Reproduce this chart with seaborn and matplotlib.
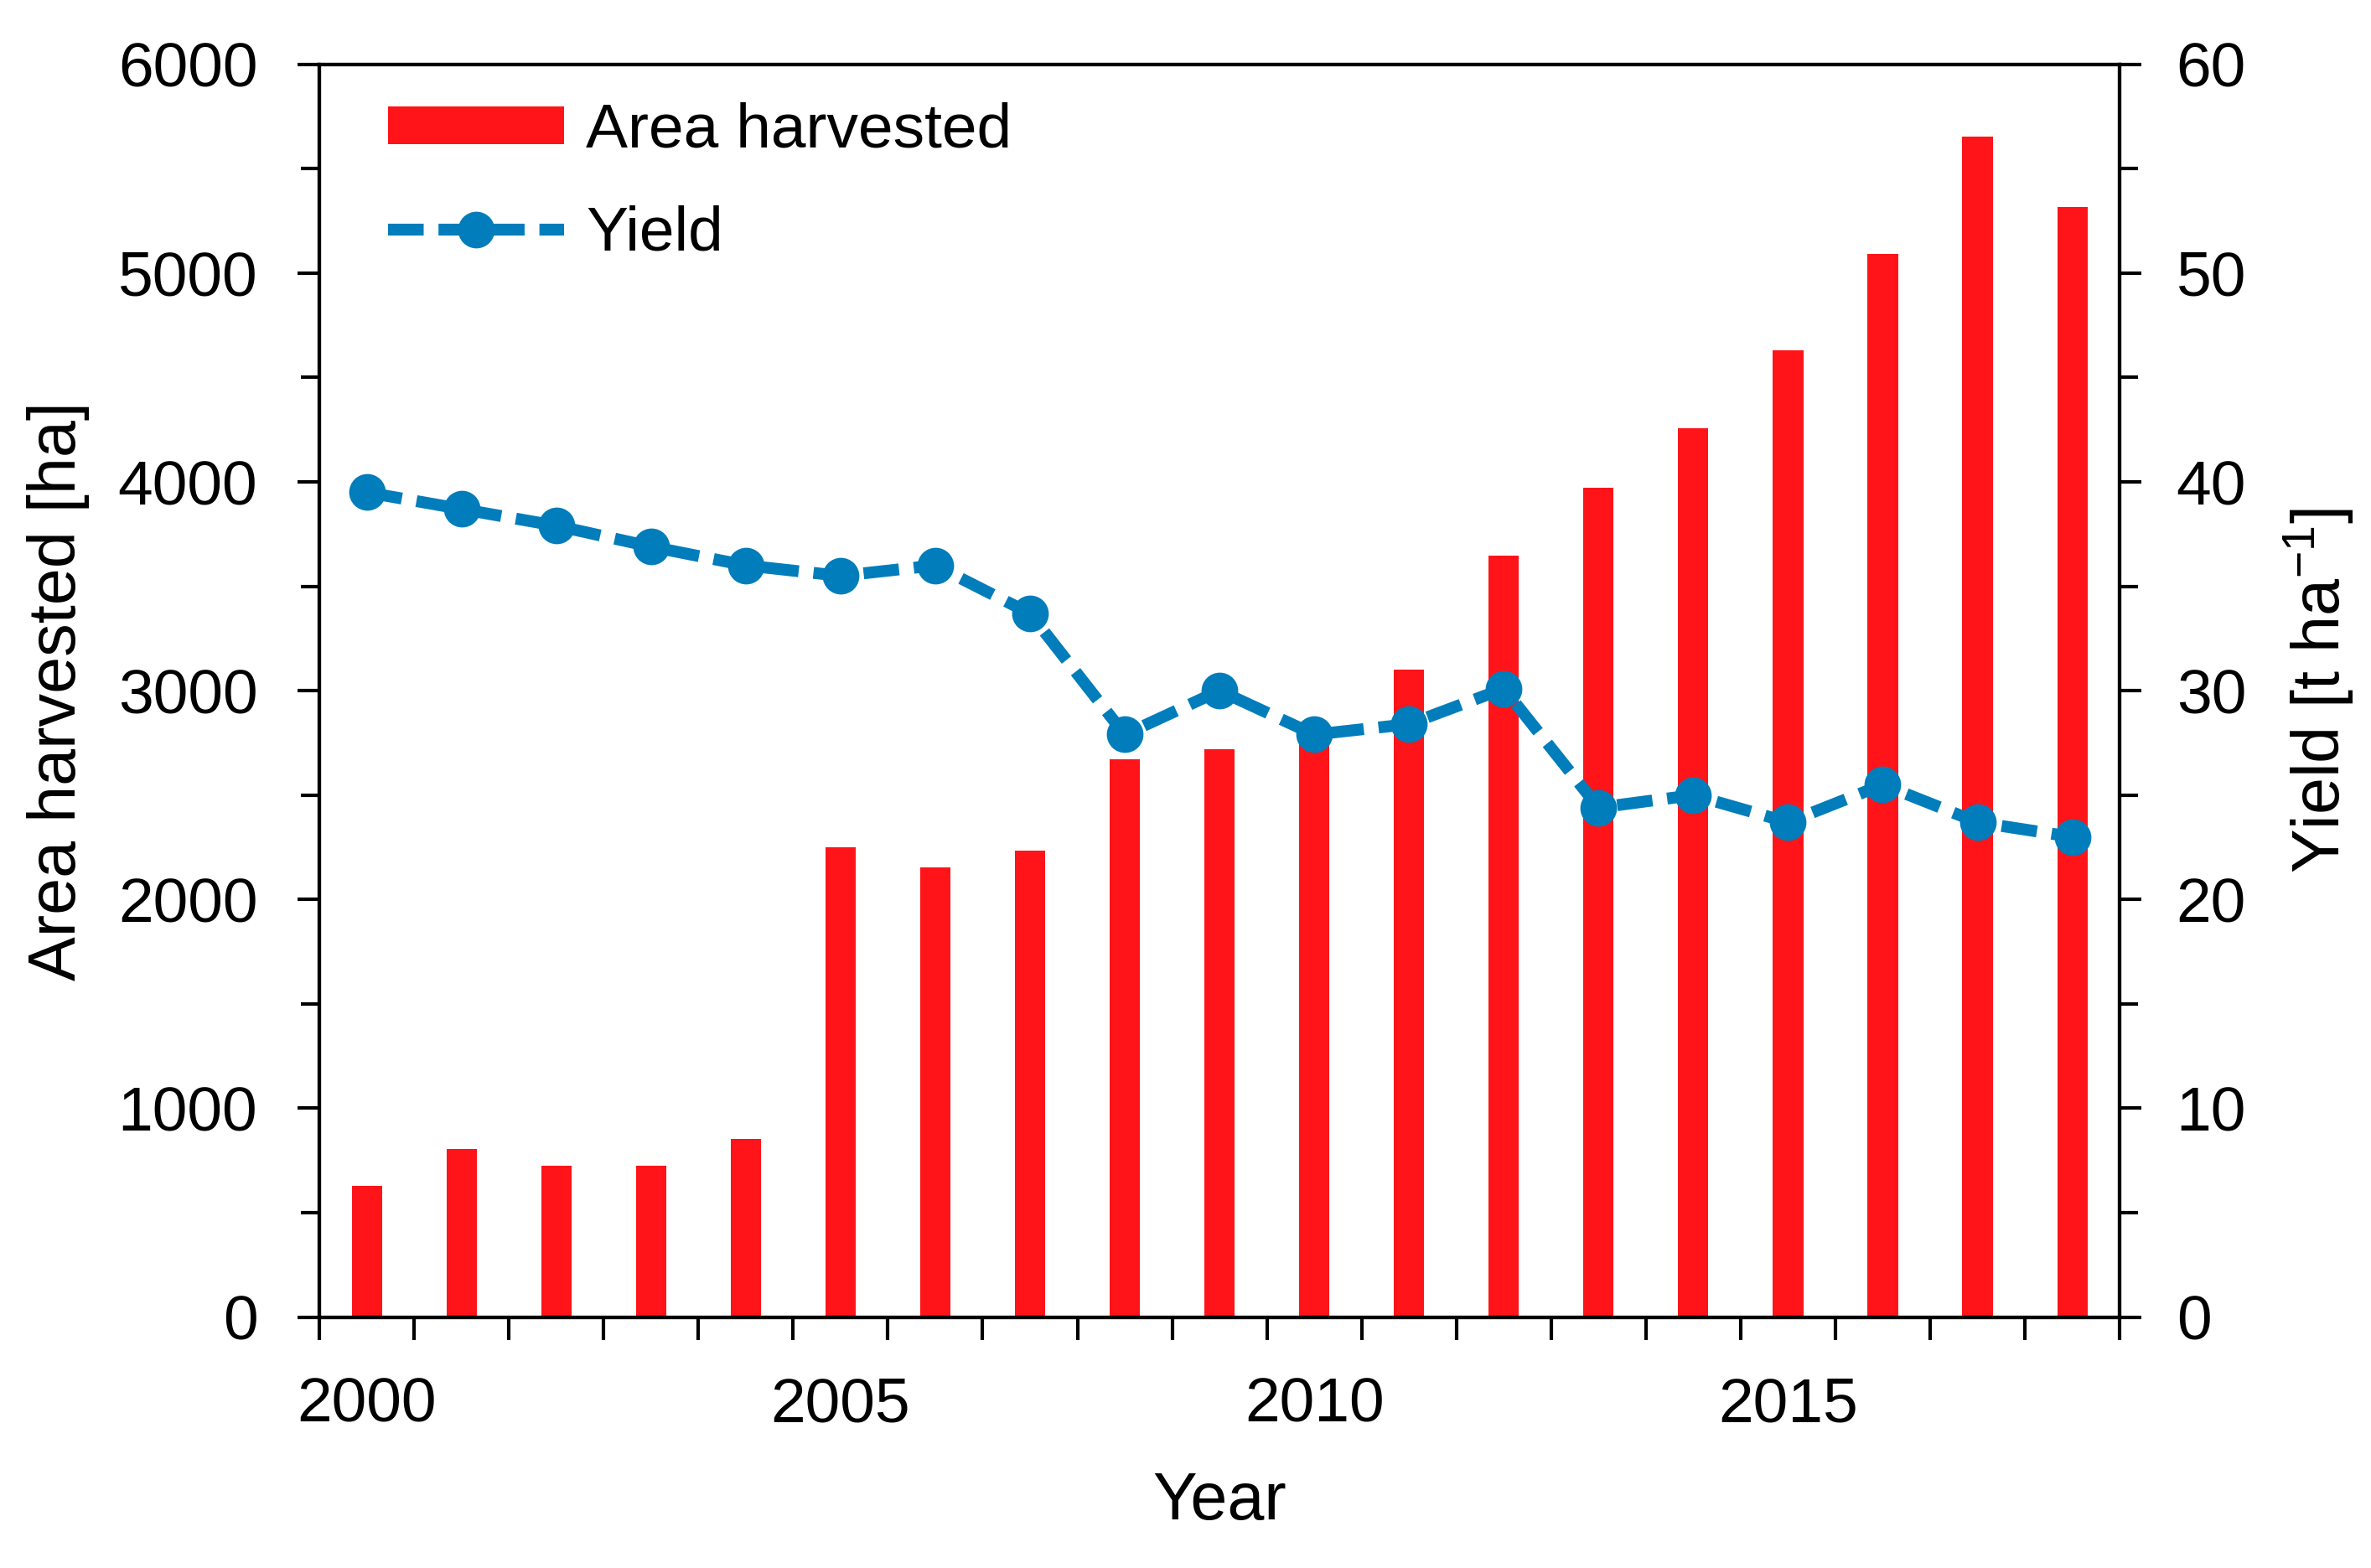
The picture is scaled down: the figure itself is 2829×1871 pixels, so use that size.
import numpy as np
import seaborn as sns
import matplotlib.pyplot as plt
from matplotlib.ticker import FixedLocator, MultipleLocator

# data
years = list(range(2000, 2019))
area_harvested = [630, 805, 725, 725, 855, 2250, 2155, 2235, 2670, 2720, 2800,
                  3100, 3645, 3970, 4255, 4630, 5090, 5655, 5315]
yield_t_ha = [39.5, 38.7, 37.9, 36.9, 36.0, 35.5, 36.0, 33.7, 27.9, 30.0, 27.9,
              28.4, 30.1, 24.4, 25.0, 23.7, 25.5, 23.7, 23.0]
year_labels = [2000, 2005, 2010, 2015]

RED = "#FF1419"
BLUE = "#007DBA"

sns.set_theme(style="ticks")
plt.rcParams["font.family"] = ["Liberation Sans", "DejaVu Sans"]
plt.rcParams["mathtext.fontset"] = "custom"
plt.rcParams["mathtext.rm"] = "Liberation Sans"
plt.rcParams["mathtext.it"] = "Liberation Sans:italic"
plt.rcParams["mathtext.bf"] = "Liberation Sans:bold"
for key in ("text.color", "axes.labelcolor", "xtick.color", "ytick.color",
            "axes.edgecolor"):
    plt.rcParams[key] = "black"

fig = plt.figure(figsize=(2829 / 300, 1871 / 300), dpi=300)
ax = fig.add_axes([0.1347, 0.160, 0.894 - 0.1347, 0.959 - 0.160])
ax2 = ax.twinx()

# ---- bars (left axis)
sns.barplot(x=years, y=area_harvested, native_scale=True, width=0.32,
            color=RED, saturation=1, linewidth=0, ax=ax, label="Area harvested")

# ---- yield line (right axis)
sns.lineplot(x=years, y=yield_t_ha, ax=ax2, color=BLUE, marker="o",
             markersize=10.5, markeredgewidth=0, linewidth=3.4,
             label="Yield")
line = ax2.lines[0]
line.set_dashes((3.0, 1.25))

# ---- axes ranges / ticks
ax.set_xlim(1999.5, 2018.5)
ax.set_ylim(0, 6000)
ax2.set_ylim(0, 60)

ax.xaxis.set_major_locator(FixedLocator(year_labels))
ax.set_xticklabels([str(y) for y in year_labels])
ax.xaxis.set_minor_locator(FixedLocator(np.arange(1999.5, 2019.0, 1.0)))
ax.tick_params(axis="x", which="major", length=0, pad=17, labelsize=18)
ax.tick_params(axis="x", which="minor", length=6.5, width=1.0, direction="out")

ax.yaxis.set_major_locator(MultipleLocator(1000))
ax.yaxis.set_minor_locator(MultipleLocator(500))
ax.tick_params(axis="y", which="major", length=6.2, width=1.0, pad=11.5,
               labelsize=18, direction="out")
ax.tick_params(axis="y", which="minor", length=5.2, width=1.0, direction="out")

ax2.yaxis.set_major_locator(MultipleLocator(10))
ax2.yaxis.set_minor_locator(MultipleLocator(5))
ax2.tick_params(axis="y", which="major", length=6.2, width=1.0, pad=10,
                labelsize=18, direction="out")
ax2.tick_params(axis="y", which="minor", length=5.2, width=1.0, direction="out")

for a in (ax, ax2):
    for sp in a.spines.values():
        sp.set_linewidth(1.0)
        sp.set_color("black")
    a.grid(False)

ax.set_xlabel("Year", fontsize=19, labelpad=10.5)
ax.set_ylabel("Area harvested [ha]", fontsize=19, labelpad=8)
ax2.set_ylabel(r"Yield [t ha$^{-1}$]", fontsize=19, labelpad=10)

# ---- legend
if ax.get_legend() is not None:
    ax.get_legend().remove()
h1, l1 = ax.get_legend_handles_labels()
h2, l2 = ax2.get_legend_handles_labels()
ax2.legend(h1 + h2, l1 + l2, loc="upper left", bbox_to_anchor=(0.024, 0.99),
           frameon=False, fontsize=18, handlelength=2.8, handleheight=0.55,
           handletextpad=0.35, labelspacing=0.72, borderaxespad=0)

fig.savefig("out.png", dpi=300)
